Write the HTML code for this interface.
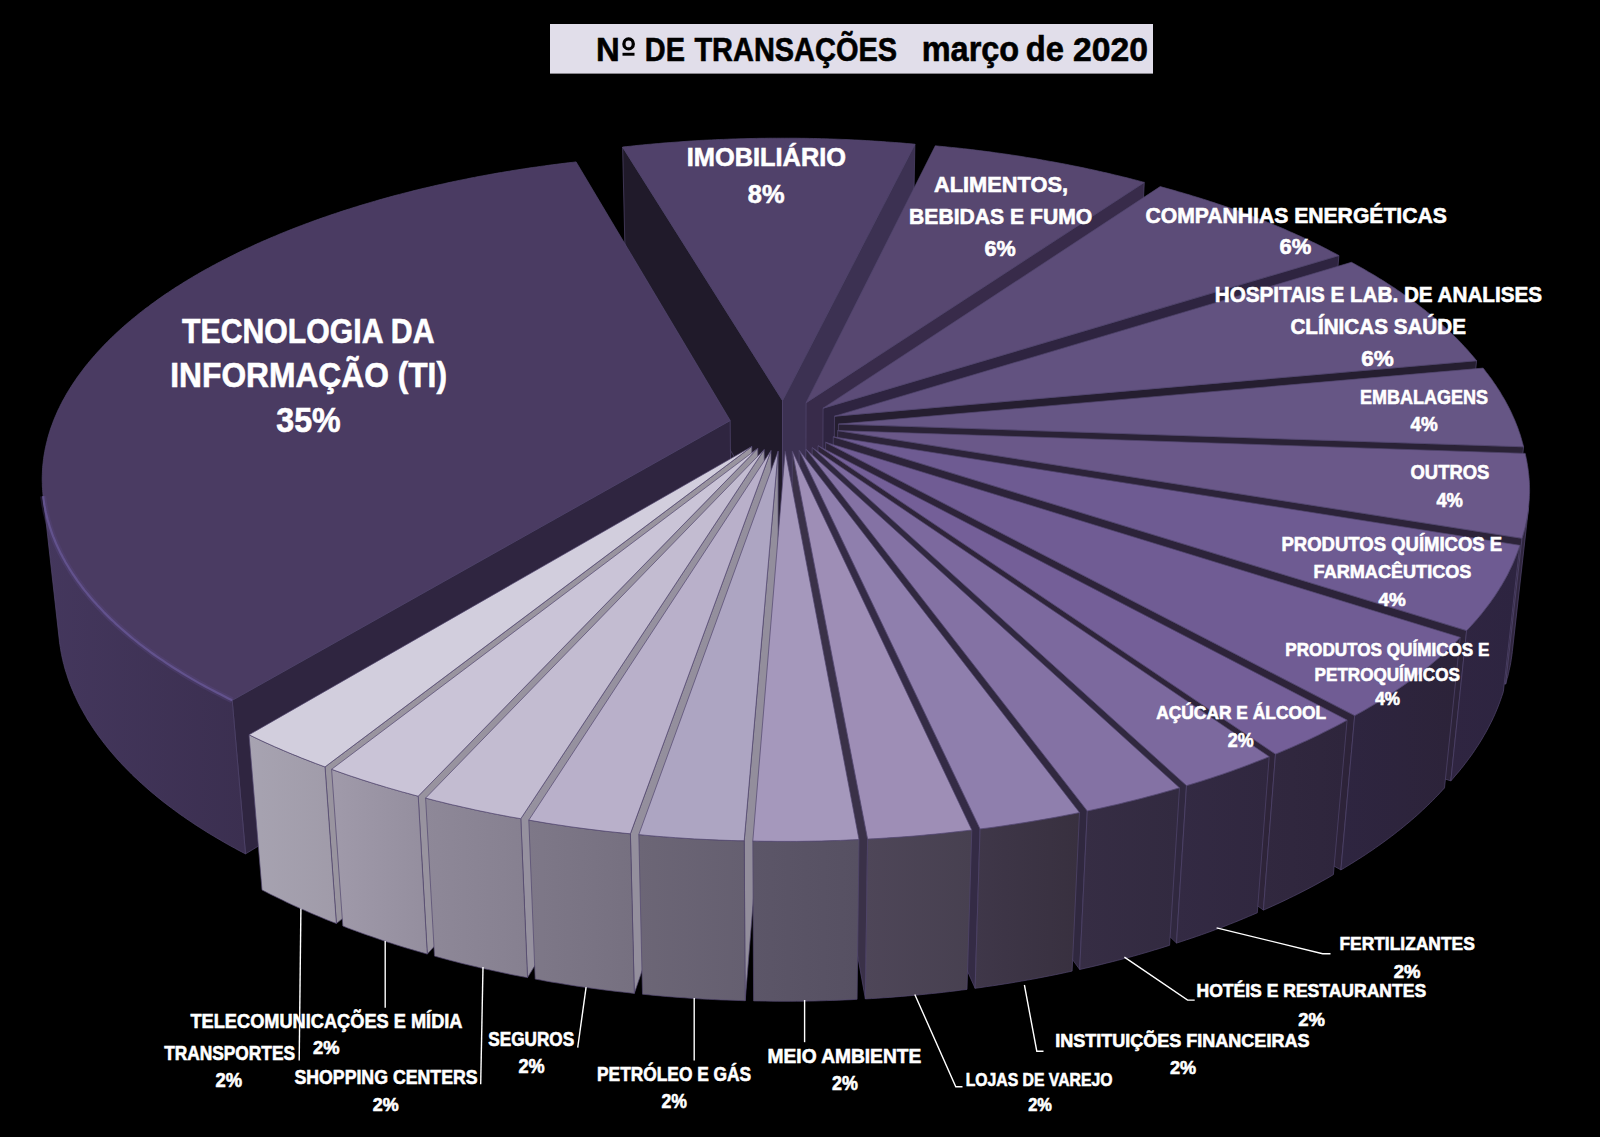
<!DOCTYPE html>
<html><head><meta charset="utf-8"><style>
html,body{margin:0;padding:0;background:#000;}
body{width:1600px;height:1137px;overflow:hidden;}
svg{display:block}
text{font-family:"Liberation Sans",sans-serif;font-weight:bold;fill:#fff;stroke:#fff;stroke-width:0.6px;}
</style></head><body>
<svg width="1600" height="1137" viewBox="0 0 1600 1137">
<defs>
<linearGradient id="w1" gradientUnits="userSpaceOnUse" x1="1505.6" y1="0" x2="1528.6" y2="0"><stop offset="0" stop-color="#30263f"/><stop offset="1" stop-color="#30263f"/></linearGradient>
<linearGradient id="w2" gradientUnits="userSpaceOnUse" x1="1450.8" y1="0" x2="1519.8" y2="0"><stop offset="0" stop-color="#2f2541"/><stop offset="1" stop-color="#2d2440"/></linearGradient>
<linearGradient id="w3" gradientUnits="userSpaceOnUse" x1="1340.9" y1="0" x2="1460.2" y2="0"><stop offset="0" stop-color="#2e2540"/><stop offset="1" stop-color="#2c2339"/></linearGradient>
<linearGradient id="w4" gradientUnits="userSpaceOnUse" x1="1263.4" y1="0" x2="1347.1" y2="0"><stop offset="0" stop-color="#31283f"/><stop offset="1" stop-color="#2e253c"/></linearGradient>
<linearGradient id="w5" gradientUnits="userSpaceOnUse" x1="1176.5" y1="0" x2="1269.2" y2="0"><stop offset="0" stop-color="#332a43"/><stop offset="1" stop-color="#30273f"/></linearGradient>
<linearGradient id="w6" gradientUnits="userSpaceOnUse" x1="1079.7" y1="0" x2="1179.5" y2="0"><stop offset="0" stop-color="#362d44"/><stop offset="1" stop-color="#322a40"/></linearGradient>
<linearGradient id="w7" gradientUnits="userSpaceOnUse" x1="975.1" y1="0" x2="1079.5" y2="0"><stop offset="0" stop-color="#3f3749"/><stop offset="1" stop-color="#38303f"/></linearGradient>
<linearGradient id="w8" gradientUnits="userSpaceOnUse" x1="865.4" y1="0" x2="971.8" y2="0"><stop offset="0" stop-color="#4e4658"/><stop offset="1" stop-color="#474050"/></linearGradient>
<linearGradient id="w9" gradientUnits="userSpaceOnUse" x1="43.2" y1="0" x2="245.5" y2="0"><stop offset="0" stop-color="#44375d"/><stop offset="1" stop-color="#3b2f50"/></linearGradient>
<linearGradient id="w10" gradientUnits="userSpaceOnUse" x1="249.0" y1="0" x2="336.4" y2="0"><stop offset="0" stop-color="#a7a3b1"/><stop offset="1" stop-color="#a09ba9"/></linearGradient>
<linearGradient id="w11" gradientUnits="userSpaceOnUse" x1="331.6" y1="0" x2="427.3" y2="0"><stop offset="0" stop-color="#a09aaa"/><stop offset="1" stop-color="#948e9e"/></linearGradient>
<linearGradient id="w12" gradientUnits="userSpaceOnUse" x1="425.6" y1="0" x2="527.5" y2="0"><stop offset="0" stop-color="#8e8898"/><stop offset="1" stop-color="#868090"/></linearGradient>
<linearGradient id="w13" gradientUnits="userSpaceOnUse" x1="528.8" y1="0" x2="634.3" y2="0"><stop offset="0" stop-color="#7e7888"/><stop offset="1" stop-color="#767080"/></linearGradient>
<linearGradient id="w14" gradientUnits="userSpaceOnUse" x1="638.8" y1="0" x2="745.2" y2="0"><stop offset="0" stop-color="#6c6676"/><stop offset="1" stop-color="#655f70"/></linearGradient>
<linearGradient id="w15" gradientUnits="userSpaceOnUse" x1="752.8" y1="0" x2="859.0" y2="0"><stop offset="0" stop-color="#5c5668"/><stop offset="1" stop-color="#565062"/></linearGradient>
</defs>
<rect width="1600" height="1137" fill="#000"/>
<polygon points="729,420 783,399 790,468 729,468" fill="#201a2a"/>
<g stroke="#52466f" stroke-width="0.7" stroke-linejoin="round">
<polygon points="782.5,400.5 622.6,147.0 625.5,271.4 782.5,539.1" fill="#201a2a"/>
<polygon points="782.5,400.5 914.9,144.2 912.6,268.4 782.5,539.1" fill="#3c3152"/>
<polygon points="806.1,402.7 1144.3,182.4 1137.8,308.8 805.6,541.4" fill="#382b4a"/>
<polygon points="823.1,408.2 1338.9,255.5 1328.3,386.2 822.3,547.2" fill="#2e2440"/>
<polygon points="834.5,416.2 1476.6,360.7 1462.5,497.2 833.4,555.7" fill="#251e30"/>
<polygon points="838.5,424.1 1523.6,446.8 1507.9,587.9 837.3,564.0" fill="#2a2236"/>
<polygon points="837.7,430.6 1522.0,538.3 1505.6,684.1 836.5,570.9" fill="#2c2339"/>
<polygon points="1522.0,538.3 1522.8,535.7 1523.5,533.2 1524.2,530.6 1524.9,528.0 1525.5,525.5 1526.1,522.9 1526.6,520.3 1527.1,517.8 1527.5,515.2 1527.9,512.6 1528.3,510.1 1528.6,507.5 1512.3,651.8 1512.0,654.4 1511.6,657.1 1511.2,659.8 1510.8,662.5 1510.3,665.2 1509.7,667.9 1509.1,670.6 1508.5,673.3 1507.9,676.0 1507.1,678.7 1506.4,681.4 1505.6,684.1" fill="url(#w1)"/>
<polygon points="833.3,436.8 1466.6,630.6 1450.8,780.9 832.3,577.4" fill="#2c2339"/>
<polygon points="1466.6,630.6 1468.9,628.2 1471.1,625.8 1473.2,623.4 1475.3,621.1 1477.4,618.7 1479.4,616.3 1481.4,613.9 1483.3,611.5 1485.2,609.0 1487.1,606.6 1488.9,604.2 1490.7,601.8 1492.4,599.3 1494.1,596.9 1495.7,594.5 1497.3,592.0 1498.9,589.6 1500.4,587.1 1501.9,584.7 1503.3,582.2 1504.7,579.8 1506.1,577.3 1507.4,574.9 1508.6,572.4 1509.8,569.9 1511.0,567.5 1512.2,565.0 1513.3,562.5 1514.3,560.1 1515.3,557.6 1516.3,555.1 1517.2,552.7 1518.1,550.2 1519.0,547.7 1519.8,545.3 1503.4,691.4 1502.6,694.0 1501.7,696.6 1500.8,699.2 1499.9,701.8 1498.9,704.4 1497.9,707.0 1496.9,709.5 1495.8,712.1 1494.7,714.7 1493.5,717.3 1492.3,719.9 1491.0,722.5 1489.7,725.0 1488.4,727.6 1487.0,730.2 1485.6,732.8 1484.1,735.3 1482.6,737.9 1481.1,740.5 1479.5,743.0 1477.9,745.6 1476.2,748.1 1474.5,750.7 1472.8,753.2 1471.0,755.8 1469.1,758.3 1467.3,760.8 1465.3,763.4 1463.4,765.9 1461.4,768.4 1459.4,770.9 1457.3,773.4 1455.1,775.9 1453.0,778.4 1450.8,780.9" fill="url(#w2)"/>
<polygon points="825.6,442.3 1354.7,715.6 1340.9,869.9 824.8,583.2" fill="#2d2339"/>
<polygon points="1354.7,715.6 1358.4,713.6 1362.1,711.5 1365.7,709.4 1369.3,707.3 1372.9,705.2 1376.4,703.1 1379.9,701.0 1383.3,698.8 1386.7,696.7 1390.0,694.5 1393.3,692.3 1396.6,690.1 1399.8,687.9 1403.0,685.7 1406.2,683.5 1409.3,681.3 1412.3,679.0 1415.4,676.8 1418.3,674.5 1421.3,672.3 1424.2,670.0 1427.0,667.7 1429.8,665.4 1432.6,663.1 1435.3,660.8 1438.0,658.5 1440.6,656.1 1443.2,653.8 1445.8,651.5 1448.3,649.1 1450.8,646.8 1453.2,644.4 1455.6,642.0 1457.9,639.7 1460.2,637.3 1444.5,787.9 1442.2,790.4 1439.9,792.9 1437.6,795.4 1435.2,797.8 1432.8,800.3 1430.3,802.8 1427.8,805.2 1425.2,807.7 1422.6,810.1 1420.0,812.5 1417.3,815.0 1414.6,817.4 1411.8,819.8 1409.0,822.2 1406.2,824.5 1403.3,826.9 1400.4,829.3 1397.4,831.6 1394.4,834.0 1391.4,836.3 1388.3,838.6 1385.2,840.9 1382.0,843.2 1378.8,845.5 1375.5,847.8 1372.3,850.1 1368.9,852.3 1365.6,854.6 1362.2,856.8 1358.7,859.0 1355.2,861.2 1351.7,863.4 1348.1,865.6 1344.5,867.8 1340.9,869.9" fill="url(#w3)"/>
<polygon points="818.0,445.7 1275.5,754.1 1263.4,910.1 817.3,586.8" fill="#2e2439"/>
<polygon points="1275.5,754.1 1280.0,752.2 1284.5,750.3 1288.9,748.4 1293.4,746.5 1297.7,744.6 1302.1,742.6 1306.4,740.7 1310.6,738.7 1314.8,736.7 1319.0,734.7 1323.1,732.6 1327.2,730.6 1331.3,728.5 1335.3,726.5 1339.2,724.4 1343.2,722.3 1347.1,720.1 1333.4,874.6 1329.6,876.9 1325.8,879.1 1321.9,881.2 1318.0,883.4 1314.0,885.6 1310.0,887.7 1306.0,889.8 1301.9,891.9 1297.8,894.0 1293.6,896.1 1289.4,898.1 1285.2,900.2 1280.9,902.2 1276.6,904.2 1272.2,906.2 1267.8,908.2 1263.4,910.1" fill="url(#w4)"/>
<polygon points="812.2,447.6 1186.5,785.6 1176.5,943.1 811.6,588.8" fill="#30283f"/>
<polygon points="1186.5,785.6 1191.7,784.1 1196.8,782.5 1201.9,780.9 1206.9,779.3 1211.9,777.7 1216.9,776.0 1221.8,774.4 1226.7,772.7 1231.6,771.0 1236.4,769.2 1241.2,767.5 1246.0,765.7 1250.7,763.9 1255.4,762.1 1260.0,760.3 1264.7,758.5 1269.2,756.6 1257.3,912.8 1252.8,914.7 1248.3,916.6 1243.8,918.5 1239.2,920.4 1234.6,922.3 1229.9,924.1 1225.2,926.0 1220.5,927.8 1215.8,929.5 1211.0,931.3 1206.1,933.1 1201.3,934.8 1196.4,936.5 1191.5,938.2 1186.5,939.8 1181.5,941.5 1176.5,943.1" fill="url(#w5)"/>
<polygon points="805.9,449.1 1087.3,810.9 1079.7,969.5 805.4,590.4" fill="#30283f"/>
<polygon points="1087.3,810.9 1093.0,809.7 1098.6,808.5 1104.2,807.3 1109.7,806.0 1115.3,804.8 1120.8,803.5 1126.3,802.1 1131.7,800.8 1137.1,799.4 1142.5,798.1 1147.9,796.6 1153.2,795.2 1158.5,793.8 1163.8,792.3 1169.1,790.8 1174.3,789.3 1179.5,787.8 1169.6,945.3 1164.5,946.9 1159.5,948.5 1154.3,950.0 1149.2,951.6 1144.0,953.1 1138.8,954.6 1133.6,956.1 1128.3,957.5 1123.0,958.9 1117.7,960.3 1112.3,961.7 1106.9,963.0 1101.5,964.4 1096.1,965.7 1090.7,967.0 1085.2,968.2 1079.7,969.5" fill="url(#w6)"/>
<polygon points="799.2,450.3 980.1,828.9 975.1,988.3 798.9,591.6" fill="#342b45"/>
<polygon points="980.1,828.9 986.1,828.2 992.1,827.4 998.1,826.6 1004.0,825.7 1009.9,824.8 1015.9,823.9 1021.8,823.0 1027.6,822.1 1033.5,821.1 1039.3,820.1 1045.1,819.1 1050.9,818.1 1056.7,817.0 1062.4,815.9 1068.2,814.8 1073.9,813.7 1079.5,812.5 1072.1,971.1 1066.6,972.3 1061.0,973.5 1055.4,974.7 1049.8,975.8 1044.2,976.9 1038.5,978.0 1032.9,979.1 1027.2,980.1 1021.5,981.1 1015.7,982.1 1010.0,983.1 1004.2,984.0 998.4,984.9 992.6,985.8 986.8,986.6 981.0,987.5 975.1,988.3" fill="url(#w7)"/>
<polygon points="792.3,451.0 867.6,839.1 865.4,998.9 792.1,592.3" fill="#3a3148"/>
<polygon points="867.6,839.1 873.8,838.8 880.0,838.4 886.2,838.0 892.4,837.6 898.6,837.2 904.7,836.7 910.9,836.3 917.0,835.8 923.2,835.2 929.3,834.6 935.4,834.1 941.5,833.4 947.6,832.8 953.7,832.1 959.7,831.4 965.8,830.7 971.8,830.0 967.0,989.4 961.2,990.1 955.3,990.9 949.4,991.6 943.5,992.3 937.5,993.0 931.6,993.6 925.6,994.2 919.6,994.8 913.7,995.4 907.7,995.9 901.7,996.4 895.6,996.9 889.6,997.4 883.6,997.8 877.5,998.2 871.5,998.6 865.4,998.9" fill="url(#w8)"/>
<polygon points="730.2,420.5 232.2,700.3 245.5,853.9 731.3,560.2" fill="#2f2540"/>
<polygon points="43.2,496.2 43.4,498.6 43.8,500.9 44.1,503.3 44.5,505.7 45.0,508.0 45.4,510.4 45.9,512.7 46.5,515.1 47.1,517.4 47.7,519.8 48.4,522.1 49.1,524.5 49.8,526.9 50.6,529.2 51.4,531.6 52.2,533.9 53.1,536.3 54.1,538.7 55.0,541.0 56.0,543.4 57.1,545.7 58.2,548.1 59.3,550.4 60.4,552.8 61.7,555.1 62.9,557.5 64.2,559.8 65.5,562.2 66.9,564.5 68.3,566.8 69.7,569.2 71.2,571.5 72.7,573.8 74.3,576.2 75.9,578.5 77.5,580.8 79.2,583.1 80.9,585.4 82.6,587.8 84.4,590.1 86.3,592.4 88.2,594.7 90.1,597.0 92.0,599.2 94.0,601.5 96.1,603.8 98.1,606.1 100.3,608.3 102.4,610.6 104.6,612.9 106.8,615.1 109.1,617.4 111.4,619.6 113.8,621.8 116.2,624.1 118.6,626.3 121.1,628.5 123.6,630.7 126.2,632.9 128.8,635.1 131.4,637.3 134.1,639.5 136.8,641.6 139.5,643.8 142.3,645.9 145.2,648.1 148.0,650.2 150.9,652.3 153.9,654.5 156.9,656.6 159.9,658.7 163.0,660.7 166.1,662.8 169.2,664.9 172.4,667.0 175.6,669.0 178.9,671.0 182.2,673.1 185.5,675.1 188.9,677.1 192.3,679.1 195.7,681.1 199.2,683.1 202.7,685.0 206.3,687.0 209.9,688.9 213.5,690.8 217.2,692.7 220.9,694.6 224.6,696.5 228.4,698.4 232.2,700.3 245.5,853.9 241.7,851.9 238.0,850.0 234.4,848.0 230.7,846.0 227.1,844.0 223.6,842.0 220.1,839.9 216.6,837.9 213.1,835.8 209.7,833.8 206.3,831.7 203.0,829.6 199.7,827.5 196.4,825.4 193.2,823.3 190.0,821.1 186.8,819.0 183.7,816.8 180.6,814.7 177.6,812.5 174.6,810.3 171.6,808.1 168.7,805.9 165.8,803.7 162.9,801.5 160.1,799.2 157.3,797.0 154.6,794.7 151.9,792.5 149.2,790.2 146.6,787.9 144.0,785.6 141.4,783.3 138.9,781.0 136.5,778.7 134.0,776.4 131.6,774.1 129.3,771.7 127.0,769.4 124.7,767.0 122.4,764.7 120.2,762.3 118.1,760.0 115.9,757.6 113.9,755.2 111.8,752.8 109.8,750.4 107.8,748.0 105.9,745.6 104.0,743.2 102.2,740.8 100.4,738.4 98.6,736.0 96.8,733.6 95.1,731.1 93.5,728.7 91.9,726.3 90.3,723.8 88.7,721.4 87.2,719.0 85.8,716.5 84.4,714.1 83.0,711.6 81.6,709.1 80.3,706.7 79.0,704.2 77.8,701.8 76.6,699.3 75.5,696.8 74.3,694.4 73.3,691.9 72.2,689.4 71.2,686.9 70.2,684.5 69.3,682.0 68.4,679.5 67.6,677.0 66.8,674.6 66.0,672.1 65.2,669.6 64.5,667.1 63.9,664.6 63.2,662.2 62.7,659.7 62.1,657.2 61.6,654.7 61.1,652.3 60.7,649.8 60.3,647.3 59.9,644.8 59.5,642.4 59.3,639.9" fill="url(#w9)"/>
<polygon points="751.8,446.5 325.0,766.9 336.4,923.5 752.4,587.6" fill="#99949f"/>
<polygon points="249.0,734.8 253.2,736.8 257.4,738.8 261.6,740.8 265.9,742.8 270.2,744.7 274.6,746.7 279.0,748.6 283.4,750.5 287.9,752.4 292.4,754.3 297.0,756.1 301.5,758.0 306.2,759.8 310.8,761.6 315.5,763.4 320.3,765.2 325.0,766.9 336.4,923.5 331.7,921.7 327.1,919.9 322.5,918.0 317.9,916.1 313.4,914.2 308.9,912.3 304.5,910.3 300.1,908.4 295.7,906.4 291.3,904.4 287.0,902.4 282.8,900.3 278.6,898.3 274.4,896.2 270.2,894.2 266.1,892.1 262.0,889.9" fill="url(#w10)"/>
<polygon points="757.8,448.3 418.2,796.2 427.3,954.1 758.3,589.4" fill="#98939f"/>
<polygon points="331.6,769.3 336.5,771.1 341.3,772.8 346.2,774.5 351.1,776.2 356.1,777.8 361.1,779.5 366.1,781.1 371.2,782.7 376.3,784.3 381.4,785.8 386.6,787.4 391.8,788.9 397.0,790.4 402.2,791.9 407.5,793.3 412.8,794.8 418.2,796.2 427.3,954.1 422.1,952.6 416.9,951.1 411.8,949.6 406.6,948.1 401.5,946.5 396.5,944.9 391.4,943.3 386.4,941.7 381.4,940.0 376.5,938.3 371.6,936.6 366.7,934.9 361.9,933.2 357.0,931.4 352.3,929.7 347.5,927.9 342.8,926.0" fill="url(#w11)"/>
<polygon points="764.2,449.6 520.8,818.7 527.5,977.6 764.7,590.9" fill="#96919f"/>
<polygon points="425.6,798.1 431.0,799.5 436.4,800.9 441.8,802.2 447.3,803.6 452.8,804.9 458.3,806.1 463.9,807.4 469.5,808.6 475.1,809.9 480.7,811.1 486.4,812.2 492.0,813.4 497.7,814.5 503.5,815.6 509.2,816.7 515.0,817.7 520.8,818.7 527.5,977.6 521.8,976.6 516.2,975.5 510.5,974.4 505.0,973.2 499.4,972.0 493.8,970.8 488.3,969.6 482.8,968.4 477.4,967.1 471.9,965.8 466.5,964.5 461.1,963.2 455.7,961.8 450.4,960.4 445.1,959.0 439.8,957.6 434.5,956.1" fill="url(#w12)"/>
<polygon points="771.0,450.6 630.4,833.8 634.3,993.4 771.3,591.9" fill="#948f9d"/>
<polygon points="528.8,820.1 534.6,821.1 540.5,822.1 546.3,823.1 552.2,824.0 558.1,824.9 564.1,825.8 570.0,826.7 576.0,827.5 582.0,828.3 588.0,829.1 594.0,829.8 600.0,830.6 606.1,831.3 612.1,831.9 618.2,832.6 624.3,833.2 630.4,833.8 634.3,993.4 628.4,992.7 622.4,992.1 616.5,991.4 610.6,990.7 604.7,990.0 598.8,989.2 592.9,988.4 587.1,987.6 581.3,986.8 575.4,985.9 569.6,985.0 563.9,984.1 558.1,983.1 552.3,982.2 546.6,981.2 540.9,980.1 535.2,979.1" fill="url(#w13)"/>
<polygon points="778.1,451.2 744.2,840.8 745.2,1000.7 778.2,592.5" fill="#938e9c"/>
<polygon points="638.8,834.6 644.9,835.2 651.1,835.8 657.2,836.3 663.4,836.8 669.5,837.2 675.7,837.7 681.9,838.1 688.1,838.5 694.3,838.9 700.5,839.2 706.7,839.5 713.0,839.8 719.2,840.1 725.4,840.3 731.7,840.5 737.9,840.7 744.2,840.8 745.2,1000.7 739.1,1000.5 733.0,1000.3 726.9,1000.1 720.9,999.9 714.8,999.6 708.7,999.3 702.6,999.0 696.6,998.6 690.5,998.3 684.5,997.8 678.5,997.4 672.5,996.9 666.4,996.5 660.4,995.9 654.4,995.4 648.5,994.8 642.5,994.2" fill="url(#w14)"/>
<polygon points="752.8,841.0 759.0,841.2 765.3,841.3 771.5,841.3 777.8,841.4 784.1,841.4 790.3,841.4 796.6,841.4 802.8,841.3 809.1,841.2 815.3,841.1 821.6,841.0 827.9,840.8 834.1,840.6 840.3,840.4 846.6,840.1 852.8,839.8 859.0,839.5 857.1,999.3 851.0,999.7 845.0,999.9 838.9,1000.2 832.8,1000.4 826.7,1000.6 820.6,1000.8 814.5,1001.0 808.4,1001.1 802.4,1001.2 796.3,1001.2 790.1,1001.3 784.0,1001.3 777.9,1001.3 771.8,1001.2 765.7,1001.1 759.7,1001.0 753.6,1000.9" fill="url(#w15)"/>
</g>
<g stroke="#52466f" stroke-width="0.7" stroke-linejoin="round">
<polygon points="782.5,400.5 914.9,144.2 910.9,143.8 906.8,143.5 902.8,143.1 898.8,142.8 894.7,142.5 890.7,142.2 886.6,141.9 882.6,141.6 878.5,141.3 874.5,141.1 870.4,140.8 866.4,140.6 862.3,140.3 858.2,140.1 854.2,139.9 850.1,139.7 846.0,139.5 842.0,139.4 837.9,139.2 833.8,139.1 829.7,138.9 825.7,138.8 821.6,138.7 817.5,138.6 813.4,138.5 809.3,138.4 805.2,138.3 801.2,138.3 797.1,138.2 793.0,138.2 788.9,138.2 784.8,138.2 780.7,138.2 776.6,138.2 772.6,138.2 768.5,138.2 764.4,138.3 760.3,138.3 756.2,138.4 752.1,138.5 748.1,138.6 744.0,138.7 739.9,138.8 735.8,138.9 731.7,139.0 727.7,139.2 723.6,139.4 719.5,139.5 715.4,139.7 711.4,139.9 707.3,140.1 703.2,140.3 699.2,140.5 695.1,140.8 691.1,141.0 687.0,141.3 683.0,141.6 678.9,141.9 674.9,142.2 670.8,142.5 666.8,142.8 662.7,143.1 658.7,143.5 654.7,143.8 650.6,144.2 646.6,144.5 642.6,144.9 638.6,145.3 634.6,145.7 630.6,146.2 626.6,146.6 622.6,147.0" fill="#50416a"/>
<polygon points="806.1,402.7 1144.3,182.4 1140.7,181.4 1137.0,180.4 1133.4,179.5 1129.7,178.5 1126.0,177.6 1122.3,176.7 1118.6,175.8 1114.8,174.9 1111.1,174.0 1107.4,173.1 1103.6,172.3 1099.9,171.4 1096.1,170.6 1092.3,169.7 1088.5,168.9 1084.7,168.1 1080.9,167.3 1077.1,166.5 1073.3,165.8 1069.5,165.0 1065.6,164.2 1061.8,163.5 1057.9,162.8 1054.1,162.1 1050.2,161.4 1046.3,160.7 1042.4,160.0 1038.6,159.3 1034.7,158.6 1030.8,158.0 1026.8,157.4 1022.9,156.7 1019.0,156.1 1015.1,155.5 1011.1,154.9 1007.2,154.3 1003.2,153.8 999.3,153.2 995.3,152.7 991.4,152.1 987.4,151.6 983.4,151.1 979.4,150.6 975.5,150.1 971.5,149.6 967.5,149.1 963.5,148.7 959.5,148.2 955.5,147.8 951.4,147.4 947.4,147.0 943.4,146.6 939.4,146.2 935.3,145.8" fill="#574770"/>
<polygon points="823.1,408.2 1338.9,255.5 1336.0,253.9 1333.1,252.4 1330.2,250.9 1327.2,249.3 1324.2,247.8 1321.3,246.3 1318.3,244.8 1315.3,243.3 1312.2,241.9 1309.2,240.4 1306.1,239.0 1303.0,237.5 1299.9,236.1 1296.8,234.7 1293.7,233.3 1290.5,231.9 1287.3,230.5 1284.2,229.1 1281.0,227.7 1277.8,226.4 1274.5,225.0 1271.3,223.7 1268.0,222.4 1264.7,221.0 1261.5,219.7 1258.1,218.4 1254.8,217.2 1251.5,215.9 1248.1,214.6 1244.8,213.4 1241.4,212.1 1238.0,210.9 1234.6,209.7 1231.2,208.5 1227.8,207.3 1224.3,206.1 1220.9,204.9 1217.4,203.8 1213.9,202.6 1210.4,201.5 1206.9,200.3 1203.4,199.2 1199.8,198.1 1196.3,197.0 1192.7,195.9 1189.2,194.8 1185.6,193.8 1182.0,192.7 1178.4,191.7 1174.8,190.6 1171.1,189.6 1167.5,188.6 1163.9,187.6 1160.2,186.6" fill="#5c4c78"/>
<polygon points="834.5,416.2 1476.6,360.7 1474.9,358.6 1473.2,356.6 1471.5,354.6 1469.7,352.5 1468.0,350.5 1466.2,348.5 1464.3,346.5 1462.5,344.5 1460.6,342.5 1458.7,340.5 1456.8,338.6 1454.8,336.6 1452.8,334.7 1450.8,332.7 1448.8,330.8 1446.7,328.9 1444.6,326.9 1442.5,325.0 1440.4,323.1 1438.2,321.2 1436.0,319.3 1433.8,317.5 1431.6,315.6 1429.4,313.7 1427.1,311.9 1424.8,310.0 1422.4,308.2 1420.1,306.4 1417.7,304.6 1415.3,302.8 1412.9,301.0 1410.5,299.2 1408.0,297.4 1405.5,295.6 1403.0,293.9 1400.5,292.1 1397.9,290.4 1395.4,288.6 1392.8,286.9 1390.1,285.2 1387.5,283.5 1384.9,281.8 1382.2,280.1 1379.5,278.5 1376.8,276.8 1374.0,275.1 1371.3,273.5 1368.5,271.9 1365.7,270.2 1362.9,268.6 1360.0,267.0 1357.2,265.4 1354.3,263.8 1351.4,262.3" fill="#625280"/>
<polygon points="838.5,424.1 1523.6,446.8 1523.0,444.4 1522.3,442.1 1521.7,439.8 1521.0,437.4 1520.3,435.1 1519.5,432.8 1518.7,430.5 1517.9,428.1 1517.0,425.8 1516.1,423.5 1515.2,421.2 1514.2,418.9 1513.2,416.7 1512.2,414.4 1511.1,412.1 1510.0,409.8 1508.9,407.6 1507.7,405.3 1506.5,403.1 1505.3,400.8 1504.0,398.6 1502.7,396.4 1501.4,394.2 1500.1,391.9 1498.7,389.7 1497.2,387.5 1495.8,385.3 1494.3,383.2 1492.8,381.0 1491.3,378.8 1489.7,376.7 1488.1,374.5 1486.4,372.4 1484.8,370.2 1483.1,368.1" fill="#665685"/>
<polygon points="837.7,430.6 1522.0,538.3 1522.7,535.9 1523.4,533.4 1524.1,530.9 1524.8,528.5 1525.4,526.0 1525.9,523.6 1526.4,521.1 1526.9,518.7 1527.3,516.2 1527.7,513.8 1528.1,511.3 1528.4,508.9 1528.7,506.5 1528.9,504.0 1529.1,501.6 1529.3,499.1 1529.4,496.7 1529.5,494.3 1529.6,491.9 1529.6,489.4 1529.5,487.0 1529.5,484.6 1529.4,482.2 1529.2,479.8 1529.0,477.3 1528.8,474.9 1528.5,472.5 1528.2,470.1 1527.9,467.7 1527.5,465.3 1527.1,463.0 1526.7,460.6 1526.2,458.2 1525.7,455.8 1525.2,453.4" fill="#6a5889"/>
<polygon points="833.3,436.8 1466.6,630.6 1468.9,628.2 1471.1,625.8 1473.2,623.4 1475.3,621.1 1477.4,618.7 1479.4,616.3 1481.4,613.9 1483.3,611.5 1485.2,609.0 1487.1,606.6 1488.9,604.2 1490.7,601.8 1492.4,599.3 1494.1,596.9 1495.7,594.5 1497.3,592.0 1498.9,589.6 1500.4,587.1 1501.9,584.7 1503.3,582.2 1504.7,579.8 1506.1,577.3 1507.4,574.9 1508.6,572.4 1509.8,569.9 1511.0,567.5 1512.2,565.0 1513.3,562.5 1514.3,560.1 1515.3,557.6 1516.3,555.1 1517.2,552.7 1518.1,550.2 1519.0,547.7 1519.8,545.3" fill="#6e5b92"/>
<polygon points="825.6,442.3 1354.7,715.6 1358.4,713.6 1362.1,711.5 1365.7,709.4 1369.3,707.3 1372.9,705.2 1376.4,703.1 1379.9,701.0 1383.3,698.8 1386.7,696.7 1390.0,694.5 1393.3,692.3 1396.6,690.1 1399.8,687.9 1403.0,685.7 1406.2,683.5 1409.3,681.3 1412.3,679.0 1415.4,676.8 1418.3,674.5 1421.3,672.3 1424.2,670.0 1427.0,667.7 1429.8,665.4 1432.6,663.1 1435.3,660.8 1438.0,658.5 1440.6,656.1 1443.2,653.8 1445.8,651.5 1448.3,649.1 1450.8,646.8 1453.2,644.4 1455.6,642.0 1457.9,639.7 1460.2,637.3" fill="#705c94"/>
<polygon points="818.0,445.7 1275.5,754.1 1280.0,752.2 1284.5,750.3 1288.9,748.4 1293.4,746.5 1297.7,744.6 1302.1,742.6 1306.4,740.7 1310.6,738.7 1314.8,736.7 1319.0,734.7 1323.1,732.6 1327.2,730.6 1331.3,728.5 1335.3,726.5 1339.2,724.4 1343.2,722.3 1347.1,720.1" fill="#745f98"/>
<polygon points="812.2,447.6 1186.5,785.6 1191.7,784.1 1196.8,782.5 1201.9,780.9 1206.9,779.3 1211.9,777.7 1216.9,776.0 1221.8,774.4 1226.7,772.7 1231.6,771.0 1236.4,769.2 1241.2,767.5 1246.0,765.7 1250.7,763.9 1255.4,762.1 1260.0,760.3 1264.7,758.5 1269.2,756.6" fill="#7c699e"/>
<polygon points="805.9,449.1 1087.3,810.9 1093.0,809.7 1098.6,808.5 1104.2,807.3 1109.7,806.0 1115.3,804.8 1120.8,803.5 1126.3,802.1 1131.7,800.8 1137.1,799.4 1142.5,798.1 1147.9,796.6 1153.2,795.2 1158.5,793.8 1163.8,792.3 1169.1,790.8 1174.3,789.3 1179.5,787.8" fill="#8472a4"/>
<polygon points="799.2,450.3 980.1,828.9 986.1,828.2 992.1,827.4 998.1,826.6 1004.0,825.7 1009.9,824.8 1015.9,823.9 1021.8,823.0 1027.6,822.1 1033.5,821.1 1039.3,820.1 1045.1,819.1 1050.9,818.1 1056.7,817.0 1062.4,815.9 1068.2,814.8 1073.9,813.7 1079.5,812.5" fill="#8f7fad"/>
<polygon points="792.3,451.0 867.6,839.1 873.8,838.8 880.0,838.4 886.2,838.0 892.4,837.6 898.6,837.2 904.7,836.7 910.9,836.3 917.0,835.8 923.2,835.2 929.3,834.6 935.4,834.1 941.5,833.4 947.6,832.8 953.7,832.1 959.7,831.4 965.8,830.7 971.8,830.0" fill="#9e8eb6"/>
<polygon points="730.2,420.5 576.1,161.9 572.1,162.4 568.2,162.8 564.2,163.3 560.2,163.8 556.3,164.3 552.3,164.8 548.4,165.3 544.4,165.9 540.5,166.4 536.6,167.0 532.6,167.5 528.7,168.1 524.8,168.7 520.9,169.3 517.0,169.9 513.1,170.5 509.2,171.2 505.3,171.8 501.4,172.5 497.5,173.1 493.7,173.8 489.8,174.5 486.0,175.2 482.1,175.9 478.3,176.6 474.4,177.4 470.6,178.1 466.8,178.9 463.0,179.7 459.2,180.4 455.4,181.2 451.6,182.0 447.8,182.8 444.1,183.7 440.3,184.5 436.6,185.3 432.8,186.2 429.1,187.1 425.3,187.9 421.6,188.8 417.9,189.7 414.2,190.6 410.5,191.6 406.9,192.5 403.2,193.4 399.5,194.4 395.9,195.3 392.2,196.3 388.6,197.3 385.0,198.3 381.4,199.3 377.8,200.3 374.2,201.4 370.6,202.4 367.1,203.5 363.5,204.5 360.0,205.6 356.4,206.7 352.9,207.8 349.4,208.9 345.9,210.0 342.4,211.1 338.9,212.3 335.5,213.4 332.0,214.6 328.6,215.7 325.2,216.9 321.8,218.1 318.4,219.3 315.0,220.5 311.6,221.7 308.3,223.0 304.9,224.2 301.6,225.5 298.3,226.7 295.0,228.0 291.7,229.3 288.4,230.6 285.1,231.9 281.9,233.2 278.7,234.5 275.5,235.9 272.3,237.2 269.1,238.6 265.9,240.0 262.7,241.3 259.6,242.7 256.5,244.1 253.4,245.5 250.3,247.0 247.2,248.4 244.2,249.8 241.1,251.3 238.1,252.7 235.1,254.2 232.1,255.7 229.1,257.2 226.2,258.7 223.2,260.2 220.3,261.7 217.4,263.2 214.5,264.8 211.6,266.3 208.8,267.9 205.9,269.4 203.1,271.0 200.3,272.6 197.6,274.2 194.8,275.8 192.1,277.4 189.3,279.1 186.6,280.7 184.0,282.3 181.3,284.0 178.6,285.7 176.0,287.3 173.4,289.0 170.8,290.7 168.3,292.4 165.7,294.1 163.2,295.8 160.7,297.6 158.2,299.3 155.8,301.1 153.4,302.8 150.9,304.6 148.6,306.4 146.2,308.1 143.8,309.9 141.5,311.7 139.2,313.5 136.9,315.4 134.7,317.2 132.4,319.0 130.2,320.9 128.0,322.7 125.9,324.6 123.7,326.4 121.6,328.3 119.5,330.2 117.5,332.1 115.4,334.0 113.4,335.9 111.4,337.8 109.4,339.8 107.5,341.7 105.6,343.6 103.7,345.6 101.8,347.6 100.0,349.5 98.1,351.5 96.3,353.5 94.6,355.5 92.8,357.5 91.1,359.5 89.4,361.5 87.8,363.5 86.1,365.5 84.5,367.6 83.0,369.6 81.4,371.7 79.9,373.7 78.4,375.8 76.9,377.8 75.5,379.9 74.1,382.0 72.7,384.1 71.3,386.2 70.0,388.3 68.7,390.4 67.4,392.5 66.2,394.6 65.0,396.8 63.8,398.9 62.6,401.0 61.5,403.2 60.4,405.3 59.4,407.5 58.3,409.6 57.3,411.8 56.4,414.0 55.4,416.2 54.5,418.3 53.6,420.5 52.8,422.7 52.0,424.9 51.2,427.1 50.4,429.3 49.7,431.6 49.0,433.8 48.4,436.0 47.7,438.2 47.2,440.5 46.6,442.7 46.1,444.9 45.6,447.2 45.1,449.4 44.7,451.7 44.3,454.0 43.9,456.2 43.6,458.5 43.3,460.8 43.1,463.0 42.8,465.3 42.6,467.6 42.5,469.9 42.4,472.1 42.3,474.4 42.2,476.7 42.2,479.0 42.2,481.3 42.3,483.6 42.3,485.9 42.5,488.2 42.6,490.5 42.8,492.8 43.0,495.1 43.3,497.4 43.6,499.8 43.9,502.1 44.3,504.4 44.7,506.7 45.2,509.0 45.6,511.3 46.2,513.6 46.7,516.0 47.3,518.3 47.9,520.6 48.6,522.9 49.3,525.2 50.0,527.6 50.8,529.9 51.6,532.2 52.5,534.5 53.3,536.8 54.3,539.2 55.2,541.5 56.2,543.8 57.3,546.1 58.3,548.4 59.4,550.7 60.6,553.1 61.8,555.4 63.0,557.7 64.3,560.0 65.6,562.3 66.9,564.6 68.3,566.9 69.7,569.2 71.2,571.5 72.7,573.8 74.2,576.1 75.8,578.4 77.4,580.6 79.0,582.9 80.7,585.2 82.4,587.5 84.2,589.7 86.0,592.0 87.8,594.3 89.7,596.5 91.6,598.8 93.6,601.0 95.6,603.3 97.6,605.5 99.7,607.7 101.8,610.0 103.9,612.2 106.1,614.4 108.4,616.6 110.6,618.8 112.9,621.0 115.3,623.2 117.6,625.4 120.1,627.6 122.5,629.7 125.0,631.9 127.6,634.1 130.1,636.2 132.7,638.4 135.4,640.5 138.1,642.6 140.8,644.8 143.6,646.9 146.4,649.0 149.2,651.1 152.1,653.2 155.0,655.2 158.0,657.3 161.0,659.4 164.0,661.4 167.0,663.5 170.1,665.5 173.3,667.5 176.5,669.5 179.7,671.5 182.9,673.5 186.2,675.5 189.5,677.5 192.9,679.5 196.3,681.4 199.7,683.3 203.2,685.3 206.7,687.2 210.3,689.1 213.8,691.0 217.4,692.9 221.1,694.7 224.8,696.6 228.5,698.4 232.2,700.3" fill="#4a3b62"/>
<polygon points="751.8,446.5 249.0,734.8 253.2,736.8 257.4,738.8 261.6,740.8 265.9,742.8 270.2,744.7 274.6,746.7 279.0,748.6 283.4,750.5 287.9,752.4 292.4,754.3 297.0,756.1 301.5,758.0 306.2,759.8 310.8,761.6 315.5,763.4 320.3,765.2 325.0,766.9" fill="#d2cedd"/>
<polygon points="757.8,448.3 331.6,769.3 336.5,771.1 341.3,772.8 346.2,774.5 351.1,776.2 356.1,777.8 361.1,779.5 366.1,781.1 371.2,782.7 376.3,784.3 381.4,785.8 386.6,787.4 391.8,788.9 397.0,790.4 402.2,791.9 407.5,793.3 412.8,794.8 418.2,796.2" fill="#cac4d7"/>
<polygon points="764.2,449.6 425.6,798.1 431.0,799.5 436.4,800.9 441.8,802.2 447.3,803.6 452.8,804.9 458.3,806.1 463.9,807.4 469.5,808.6 475.1,809.9 480.7,811.1 486.4,812.2 492.0,813.4 497.7,814.5 503.5,815.6 509.2,816.7 515.0,817.7 520.8,818.7" fill="#c3bcd1"/>
<polygon points="771.0,450.6 528.8,820.1 534.6,821.1 540.5,822.1 546.3,823.1 552.2,824.0 558.1,824.9 564.1,825.8 570.0,826.7 576.0,827.5 582.0,828.3 588.0,829.1 594.0,829.8 600.0,830.6 606.1,831.3 612.1,831.9 618.2,832.6 624.3,833.2 630.4,833.8" fill="#b9b0ca"/>
<polygon points="778.1,451.2 638.8,834.6 644.9,835.2 651.1,835.8 657.2,836.3 663.4,836.8 669.5,837.2 675.7,837.7 681.9,838.1 688.1,838.5 694.3,838.9 700.5,839.2 706.7,839.5 713.0,839.8 719.2,840.1 725.4,840.3 731.7,840.5 737.9,840.7 744.2,840.8" fill="#ada5c2"/>
<polygon points="785.2,451.3 752.8,841.0 759.0,841.2 765.3,841.3 771.5,841.3 777.8,841.4 784.1,841.4 790.3,841.4 796.6,841.4 802.8,841.3 809.1,841.2 815.3,841.1 821.6,841.0 827.9,840.8 834.1,840.6 840.3,840.4 846.6,840.1 852.8,839.8 859.0,839.5" fill="#a598bc"/>
</g>
<polyline points="43.2,496.2 43.4,498.6 43.8,500.9 44.1,503.3 44.5,505.7 45.0,508.0 45.4,510.4 45.9,512.7 46.5,515.1 47.1,517.4 47.7,519.8 48.4,522.1 49.1,524.5 49.8,526.9 50.6,529.2 51.4,531.6 52.2,533.9 53.1,536.3 54.1,538.7 55.0,541.0 56.0,543.4 57.1,545.7 58.2,548.1 59.3,550.4 60.4,552.8 61.7,555.1 62.9,557.5 64.2,559.8 65.5,562.2 66.9,564.5 68.3,566.8 69.7,569.2 71.2,571.5 72.7,573.8 74.3,576.2 75.9,578.5 77.5,580.8 79.2,583.1 80.9,585.4 82.6,587.8 84.4,590.1 86.3,592.4 88.2,594.7 90.1,597.0 92.0,599.2 94.0,601.5 96.1,603.8 98.1,606.1 100.3,608.3 102.4,610.6 104.6,612.9 106.8,615.1 109.1,617.4 111.4,619.6 113.8,621.8 116.2,624.1 118.6,626.3 121.1,628.5 123.6,630.7 126.2,632.9 128.8,635.1 131.4,637.3 134.1,639.5 136.8,641.6 139.5,643.8 142.3,645.9 145.2,648.1 148.0,650.2 150.9,652.3 153.9,654.5 156.9,656.6 159.9,658.7 163.0,660.7 166.1,662.8 169.2,664.9 172.4,667.0 175.6,669.0 178.9,671.0 182.2,673.1 185.5,675.1 188.9,677.1 192.3,679.1 195.7,681.1 199.2,683.1 202.7,685.0 206.3,687.0 209.9,688.9 213.5,690.8 217.2,692.7 220.9,694.6 224.6,696.5 228.4,698.4 232.2,700.3" fill="none" stroke="#594982" stroke-width="6" opacity="0.35"/>
<polyline points="43.2,496.2 43.4,498.6 43.8,500.9 44.1,503.3 44.5,505.7 45.0,508.0 45.4,510.4 45.9,512.7 46.5,515.1 47.1,517.4 47.7,519.8 48.4,522.1 49.1,524.5 49.8,526.9 50.6,529.2 51.4,531.6 52.2,533.9 53.1,536.3 54.1,538.7 55.0,541.0 56.0,543.4 57.1,545.7 58.2,548.1 59.3,550.4 60.4,552.8 61.7,555.1 62.9,557.5 64.2,559.8 65.5,562.2 66.9,564.5 68.3,566.8 69.7,569.2 71.2,571.5 72.7,573.8 74.3,576.2 75.9,578.5 77.5,580.8 79.2,583.1 80.9,585.4 82.6,587.8 84.4,590.1 86.3,592.4 88.2,594.7 90.1,597.0 92.0,599.2 94.0,601.5 96.1,603.8 98.1,606.1 100.3,608.3 102.4,610.6 104.6,612.9 106.8,615.1 109.1,617.4 111.4,619.6 113.8,621.8 116.2,624.1 118.6,626.3 121.1,628.5 123.6,630.7 126.2,632.9 128.8,635.1 131.4,637.3 134.1,639.5 136.8,641.6 139.5,643.8 142.3,645.9 145.2,648.1 148.0,650.2 150.9,652.3 153.9,654.5 156.9,656.6 159.9,658.7 163.0,660.7 166.1,662.8 169.2,664.9 172.4,667.0 175.6,669.0 178.9,671.0 182.2,673.1 185.5,675.1 188.9,677.1 192.3,679.1 195.7,681.1 199.2,683.1 202.7,685.0 206.3,687.0 209.9,688.9 213.5,690.8 217.2,692.7 220.9,694.6 224.6,696.5 228.4,698.4 232.2,700.3" fill="none" stroke="#62528d" stroke-width="2.2"/>
<polyline points="300.9,908.4 299.2,1060.4" fill="none" stroke="#fff" stroke-width="1.4"/>
<polyline points="385.2,941.0 385.2,1007.8" fill="none" stroke="#fff" stroke-width="1.4"/>
<polyline points="483.0,966.9 480.7,1084.2" fill="none" stroke="#fff" stroke-width="1.4"/>
<polyline points="586.1,987.2 577.7,1047.7" fill="none" stroke="#fff" stroke-width="1.4"/>
<polyline points="694.2,998.0 694.2,1060.4" fill="none" stroke="#fff" stroke-width="1.4"/>
<polyline points="804.6,1000.0 804.6,1042.2" fill="none" stroke="#fff" stroke-width="1.4"/>
<polyline points="914.8,994.5 955.8,1086.8 962.5,1086.8" fill="none" stroke="#fff" stroke-width="1.4"/>
<polyline points="1024.4,985.0 1036.8,1051.2 1043.5,1051.2" fill="none" stroke="#fff" stroke-width="1.4"/>
<polyline points="1124.4,957.1 1187.6,1000.1 1194.7,1000.1" fill="none" stroke="#fff" stroke-width="1.4"/>
<polyline points="1216.6,927.9 1322.6,953.7 1330.5,953.7" fill="none" stroke="#fff" stroke-width="1.4"/>
<text x="182.1" y="342.8" font-size="34.3" textLength="252.4" lengthAdjust="spacingAndGlyphs">TECNOLOGIA DA</text>
<text x="170.3" y="387.2" font-size="34.3" textLength="276.7" lengthAdjust="spacingAndGlyphs">INFORMAÇÃO (TI)</text>
<text x="276.3" y="432.2" font-size="34.3" textLength="64.4" lengthAdjust="spacingAndGlyphs">35%</text>
<text x="686.7" y="166.3" font-size="26.7" textLength="159.4" lengthAdjust="spacingAndGlyphs">IMOBILIÁRIO</text>
<text x="747.8" y="203.0" font-size="26.6" textLength="36.7" lengthAdjust="spacingAndGlyphs">8%</text>
<text x="934.0" y="191.9" font-size="22.3" textLength="134.0" lengthAdjust="spacingAndGlyphs">ALIMENTOS,</text>
<text x="909.1" y="223.8" font-size="22.3" textLength="183.1" lengthAdjust="spacingAndGlyphs">BEBIDAS E FUMO</text>
<text x="984.6" y="256.2" font-size="22.3" textLength="31.2" lengthAdjust="spacingAndGlyphs">6%</text>
<text x="1145.5" y="222.8" font-size="21.7" textLength="301.3" lengthAdjust="spacingAndGlyphs">COMPANHIAS ENERGÉTICAS</text>
<text x="1279.6" y="253.8" font-size="22.0" textLength="31.7" lengthAdjust="spacingAndGlyphs">6%</text>
<text x="1214.8" y="302.3" font-size="22.1" textLength="327.3" lengthAdjust="spacingAndGlyphs">HOSPITAIS E LAB. DE ANALISES</text>
<text x="1290.4" y="333.6" font-size="21.4" textLength="175.6" lengthAdjust="spacingAndGlyphs">CLÍNICAS SAÚDE</text>
<text x="1361.3" y="366.4" font-size="22.3" textLength="32.5" lengthAdjust="spacingAndGlyphs">6%</text>
<text x="1359.9" y="403.6" font-size="20.3" textLength="128.0" lengthAdjust="spacingAndGlyphs">EMBALAGENS</text>
<text x="1410.5" y="431.0" font-size="20.3" textLength="27.2" lengthAdjust="spacingAndGlyphs">4%</text>
<text x="1410.5" y="479.2" font-size="20.0" textLength="78.8" lengthAdjust="spacingAndGlyphs">OUTROS</text>
<text x="1436.4" y="506.6" font-size="19.3" textLength="26.5" lengthAdjust="spacingAndGlyphs">4%</text>
<text x="1281.5" y="550.6" font-size="19.4" textLength="220.7" lengthAdjust="spacingAndGlyphs">PRODUTOS QUÍMICOS E</text>
<text x="1313.6" y="578.4" font-size="19.1" textLength="157.8" lengthAdjust="spacingAndGlyphs">FARMACÊUTICOS</text>
<text x="1378.6" y="605.8" font-size="19.1" textLength="27.2" lengthAdjust="spacingAndGlyphs">4%</text>
<text x="1285.3" y="655.9" font-size="18.0" textLength="204.1" lengthAdjust="spacingAndGlyphs">PRODUTOS QUÍMICOS E</text>
<text x="1314.6" y="681.3" font-size="18.3" textLength="145.3" lengthAdjust="spacingAndGlyphs">PETROQUÍMICOS</text>
<text x="1375.2" y="705.4" font-size="18.0" textLength="24.8" lengthAdjust="spacingAndGlyphs">4%</text>
<text x="1156.2" y="718.9" font-size="18.3" textLength="169.9" lengthAdjust="spacingAndGlyphs">AÇÚCAR E ÁLCOOL</text>
<text x="1227.8" y="746.6" font-size="19.4" textLength="25.8" lengthAdjust="spacingAndGlyphs">2%</text>
<text x="1339.4" y="949.5" font-size="18.9" textLength="135.4" lengthAdjust="spacingAndGlyphs">FERTILIZANTES</text>
<text x="1393.8" y="977.6" font-size="18.3" textLength="26.8" lengthAdjust="spacingAndGlyphs">2%</text>
<text x="1196.5" y="997.3" font-size="18.3" textLength="229.6" lengthAdjust="spacingAndGlyphs">HOTÉIS E RESTAURANTES</text>
<text x="1298.2" y="1026.0" font-size="18.9" textLength="26.7" lengthAdjust="spacingAndGlyphs">2%</text>
<text x="1055.3" y="1046.5" font-size="18.3" textLength="254.1" lengthAdjust="spacingAndGlyphs">INSTITUIÇÕES FINANCEIRAS</text>
<text x="1169.9" y="1074.1" font-size="19.1" textLength="26.2" lengthAdjust="spacingAndGlyphs">2%</text>
<text x="965.7" y="1085.6" font-size="18.3" textLength="146.7" lengthAdjust="spacingAndGlyphs">LOJAS DE VAREJO</text>
<text x="1028.2" y="1111.0" font-size="17.7" textLength="23.7" lengthAdjust="spacingAndGlyphs">2%</text>
<text x="767.6" y="1063.1" font-size="20.0" textLength="153.6" lengthAdjust="spacingAndGlyphs">MEIO AMBIENTE</text>
<text x="832.0" y="1090.1" font-size="19.3" textLength="25.8" lengthAdjust="spacingAndGlyphs">2%</text>
<text x="597.0" y="1080.7" font-size="20.0" textLength="154.2" lengthAdjust="spacingAndGlyphs">PETRÓLEO E GÁS</text>
<text x="661.4" y="1107.9" font-size="20.0" textLength="25.5" lengthAdjust="spacingAndGlyphs">2%</text>
<text x="488.2" y="1045.6" font-size="19.4" textLength="86.0" lengthAdjust="spacingAndGlyphs">SEGUROS</text>
<text x="518.5" y="1073.2" font-size="19.7" textLength="26.2" lengthAdjust="spacingAndGlyphs">2%</text>
<text x="294.4" y="1083.6" font-size="20.0" textLength="183.2" lengthAdjust="spacingAndGlyphs">SHOPPING CENTERS</text>
<text x="372.7" y="1110.5" font-size="18.9" textLength="25.9" lengthAdjust="spacingAndGlyphs">2%</text>
<text x="190.5" y="1027.8" font-size="20.3" textLength="272.0" lengthAdjust="spacingAndGlyphs">TELECOMUNICAÇÕES E MÍDIA</text>
<text x="313.0" y="1054.3" font-size="18.9" textLength="26.5" lengthAdjust="spacingAndGlyphs">2%</text>
<text x="164.2" y="1059.5" font-size="19.3" textLength="130.8" lengthAdjust="spacingAndGlyphs">TRANSPORTES</text>
<text x="215.6" y="1087.0" font-size="19.6" textLength="26.6" lengthAdjust="spacingAndGlyphs">2%</text>
<rect x="550" y="24" width="603" height="49.6" fill="#e1deea"/>
<text x="596.0" y="61.2" font-size="33.2" textLength="23.7" lengthAdjust="spacingAndGlyphs" style="fill:#000;stroke:#000;stroke-width:0.6px">N</text>
<text x="644.8" y="61.2" font-size="33.2" textLength="40.1" lengthAdjust="spacingAndGlyphs" style="fill:#000;stroke:#000;stroke-width:0.6px">DE</text>
<text x="694.4" y="61.2" font-size="33.2" textLength="202.7" lengthAdjust="spacingAndGlyphs" style="fill:#000;stroke:#000;stroke-width:0.6px">TRANSAÇÕES</text>
<text x="921.7" y="61.0" font-size="35.5" textLength="97.5" lengthAdjust="spacingAndGlyphs" style="fill:#000;stroke:#000;stroke-width:0.6px">março</text>
<text x="1025.7" y="61.0" font-size="35.5" textLength="38.2" lengthAdjust="spacingAndGlyphs" style="fill:#000;stroke:#000;stroke-width:0.6px">de</text>
<text x="1073.0" y="61.0" font-size="32.9" textLength="74.9" lengthAdjust="spacingAndGlyphs" style="fill:#000;stroke:#000;stroke-width:0.6px">2020</text>
<ellipse cx="628.6" cy="43.9" rx="4.7" ry="5.0" fill="none" stroke="#000" stroke-width="3.3"/>
<rect x="622.5" y="52.8" width="12" height="2.9" fill="#000"/>
</svg>
</body></html>
